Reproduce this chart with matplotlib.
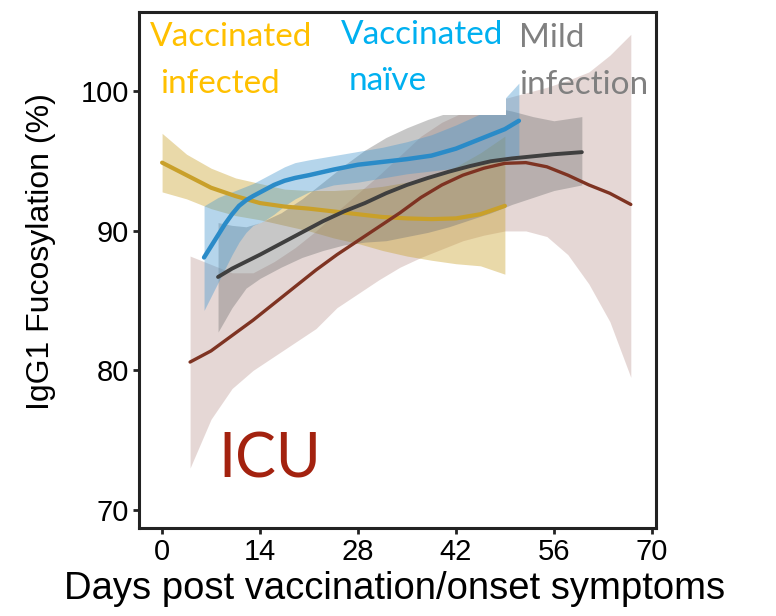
import matplotlib
matplotlib.use("Agg")
import matplotlib.pyplot as plt
from matplotlib.patches import Rectangle

# ---- data ----
vi_days = [0, 3.5, 7, 10.5, 14, 17.5, 21, 24.5, 28, 31.5, 35, 38.5, 42, 45.5, 49]
vi_mid = [94.9, 94.0, 93.1, 92.5, 92.0, 91.75, 91.6, 91.4, 91.2, 91.0, 90.9, 90.85, 90.9, 91.2, 91.8]
vi_lo = [92.8, 92.3, 91.6, 91.1, 90.8, 90.4, 90.0, 89.5, 89.1, 88.6, 88.2, 87.9, 87.65, 87.5, 86.9]
vi_hi = [97.0, 95.5, 94.5, 93.8, 93.4, 93.0, 92.9, 92.9, 93.0, 93.2, 93.5, 93.9, 94.6, 95.6, 96.8]

vn_days = [6, 7, 8, 9, 10, 11, 12, 13, 14.5, 16, 17.5, 19, 21, 24.5, 28, 31.5, 35, 38.5, 42, 45.5, 49, 51]
vn_mid = [88.1, 88.9, 89.7, 90.5, 91.2, 91.8, 92.2, 92.5, 92.9, 93.3, 93.6, 93.8, 94.0, 94.4,
          94.75, 94.95, 95.15, 95.4, 95.9, 96.6, 97.3, 97.9]
vn_lo = [84.3, 85.3, 86.3, 87.3, 88.3, 89.2, 89.9, 90.4, 90.7, 91.2, 91.8, 92.3, 92.8, 93.3,
         93.5, 93.8, 94.1, 94.3, 94.5, 94.8, 95.1, 95.3]
vn_hi = [91.8, 92.1, 92.4, 92.6, 92.8, 93.0, 93.2, 93.4, 93.8, 94.2, 94.6, 94.9, 95.1, 95.4,
         95.7, 96.0, 96.4, 96.9, 97.6, 98.4, 99.5, 100.6]

mi_days = [8, 10, 12, 14, 17, 20, 23, 26, 29, 32, 35, 38, 41, 44, 47, 50, 53, 56, 60]
mi_mid = [86.7, 87.3, 87.8, 88.3, 89.1, 89.9, 90.7, 91.4, 92.0, 92.7, 93.3, 93.8, 94.25, 94.65,
          95.0, 95.2, 95.35, 95.5, 95.65]
mi_lo = [82.75, 84.5, 85.9, 86.6, 87.4, 88.1, 88.6, 89.0, 89.2, 89.3, 89.6, 89.9, 90.3, 90.8,
         91.3, 91.9, 92.4, 92.9, 93.3]
mi_hi = [90.6, 90.4, 90.3, 90.6, 91.3, 92.3, 93.5, 94.7, 95.8, 96.7, 97.4, 98.0, 98.5, 98.8,
         98.9, 98.6, 98.2, 97.9, 98.2]

icu_days = [4, 7, 10, 13, 16, 19, 22, 25, 28, 31, 34, 37, 40, 43, 46, 49, 52, 55, 58, 61, 64, 67]
icu_mid = [80.6, 81.4, 82.5, 83.6, 84.8, 86.0, 87.2, 88.3, 89.3, 90.3, 91.3, 92.4, 93.3, 94.0,
           94.5, 94.85, 94.9, 94.6, 94.0, 93.3, 92.7, 91.9]
icu_lo = [73.0, 76.5, 78.7, 80.0, 81.0, 82.0, 83.0, 84.5, 85.5, 86.5, 87.4, 88.1, 88.7, 89.3,
          89.7, 90.0, 90.0, 89.6, 88.3, 86.2, 83.5, 79.5]
icu_hi = [88.2, 87.6, 87.0, 87.0, 87.8, 88.8, 90.0, 91.4, 92.7, 94.0, 95.4, 96.8, 97.8, 98.5,
          99.0, 99.5, 99.9, 100.3, 100.8, 101.4, 102.6, 104.1]

x_ticks = [0, 14, 28, 42, 56, 70]
y_ticks = [70, 80, 90, 100]

# ---- figure ----
W, H = 776, 616
fig = plt.figure(figsize=(W / 100, H / 100), dpi=100)
ax = fig.add_axes([139 / W, 1 - 528 / H, (656 - 139) / W, (528 - 12) / H])

band_alpha = 0.4
ax.fill_between(icu_days, icu_lo, icu_hi, color="#C09D98", alpha=band_alpha, lw=0, zorder=1)
ax.fill_between(vi_days, vi_lo, vi_hi, color="#C9A02A", alpha=band_alpha, lw=0, zorder=2)
ax.fill_between(mi_days, mi_lo, mi_hi, color="#757575", alpha=band_alpha, lw=0, zorder=3)
ax.fill_between(vn_days, vn_lo, vn_hi, color="#4698CF", alpha=band_alpha, lw=0, zorder=4)

# white box that masks the top of the bands in the reference
ax.add_patch(Rectangle((39.7, 98.35), 9.4, 8, facecolor="white", edgecolor="none", zorder=5))

ax.plot(vi_days, vi_mid, color="#C9A02A", lw=3.0, zorder=6, solid_capstyle="round")
ax.plot(vn_days, vn_mid, color="#2A8BC8", lw=3.2, zorder=7, solid_capstyle="round")
ax.plot(mi_days, mi_mid, color="#3F3F3F", lw=2.8, zorder=8, solid_capstyle="round")
ax.plot(icu_days, icu_mid, color="#7E3322", lw=2.4, zorder=9, solid_capstyle="round")

ax.set_xlim(-3.3, 70.6)
ax.set_ylim(68.7, 105.7)
ax.set_xticks(x_ticks)
ax.set_yticks(y_ticks)
ax.set_xticklabels([str(t) for t in x_ticks], fontsize=21, family="Liberation Sans")
ax.set_yticklabels([str(t) for t in y_ticks], fontsize=21, family="Liberation Sans")
ax.tick_params(axis="both", length=4, width=2, color="#222222", pad=3)
for s in ax.spines.values():
    s.set_linewidth(2.2)
    s.set_color("#222222")
    s.set_zorder(15)

ax.set_xlabel("Days post vaccination/onset symptoms", fontsize=27.5, family="Liberation Sans")
ax.xaxis.set_label_coords(0.495, -0.083)
ax.set_ylabel("IgG1 Fucosylation (%)", fontsize=23, family="Liberation Sans")
ax.yaxis.set_label_coords(-0.16, 0.535)


def ftext(px, py, s, color, size):
    fig.text(px / W, 1 - py / H, s, color=color, fontsize=size, family="Lato",
             ha="left", va="baseline", zorder=20)


ftext(150, 46, "Vaccinated", "#FFC000", 24)
ftext(160, 93, "infected", "#FFC000", 24)
ftext(341, 44, "Vaccinated", "#00B0F0", 24)
ftext(349, 90, "naïve", "#00B0F0", 24)
ftext(519, 47, "Mild", "#808080", 24)
ftext(519, 94, "infection", "#808080", 24)
ftext(218, 477, "ICU", "#A3220F", 44)

fig.savefig("out.png", dpi=100)
